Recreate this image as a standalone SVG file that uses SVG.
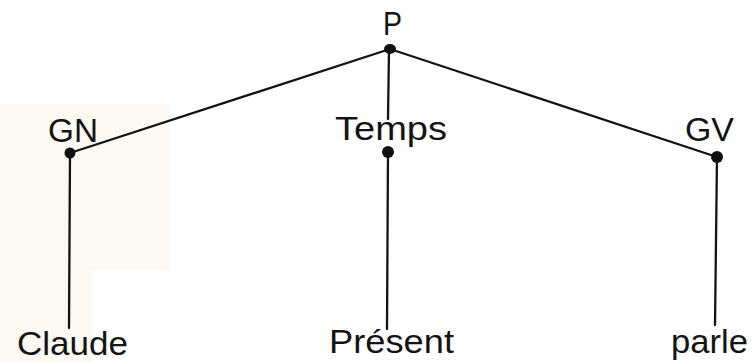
<svg xmlns="http://www.w3.org/2000/svg" width="756" height="362" viewBox="0 0 756 362">
<style>
text{font-family:"Liberation Sans",Arial,sans-serif;font-size:33px;fill:#141414}
.edge{stroke:#141414;stroke-width:2.3;fill:none;stroke-linecap:round}
.dot{fill:#111}
</style>
<rect width="756" height="362" fill="#ffffff"/>
<path d="M0 105 H170 V270 H92 V362 H0 Z" fill="#fbf9f2"/>
<g id="connectors">
<line class="edge" x1="390" y1="49" x2="70" y2="153"/>
<line class="edge" x1="390" y1="49" x2="717" y2="157"/>
<line class="edge" x1="389" y1="49" x2="388" y2="119"/>
<line class="edge" x1="70" y1="153" x2="69" y2="328"/>
<line class="edge" x1="388" y1="152" x2="387" y2="329"/>
<line class="edge" x1="717" y1="157" x2="715" y2="325"/>
</g>
<g id="P"><text x="383" y="35" textLength="19" lengthAdjust="spacingAndGlyphs">P</text><ellipse class="dot" cx="390" cy="49" rx="6" ry="5"/></g>
<g id="GN"><text x="48" y="142" textLength="50" lengthAdjust="spacingAndGlyphs">GN</text><circle class="dot" cx="70" cy="153" r="5.5"/></g>
<g id="Temps"><text x="335" y="140" textLength="112" lengthAdjust="spacingAndGlyphs">Temps</text><circle class="dot" cx="388" cy="152" r="6"/></g>
<g id="GV"><text x="685" y="141" textLength="49" lengthAdjust="spacingAndGlyphs">GV</text><circle class="dot" cx="717" cy="157" r="6"/></g>
<g id="Claude"><text x="17" y="355" textLength="111" lengthAdjust="spacingAndGlyphs">Claude</text></g>
<g id="Present"><text x="329" y="353" textLength="125" lengthAdjust="spacingAndGlyphs">Présent</text></g>
<g id="parle"><text x="671" y="353" textLength="77" lengthAdjust="spacingAndGlyphs">parle</text></g>
</svg>
